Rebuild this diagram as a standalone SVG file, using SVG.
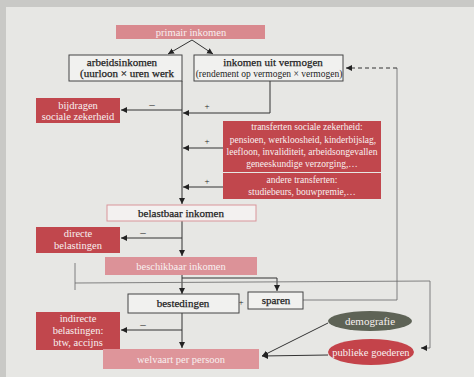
<svg xmlns="http://www.w3.org/2000/svg" width="474" height="377" viewBox="0 0 474 377">
<style>
.t{font-family:"Liberation Serif",serif;font-size:11px;fill:#1e1e1e;text-anchor:middle}
.b{stroke:#1e1e1e;stroke-width:0.25}
.s{font-size:9.5px}
.m{font-size:10.5px}
.p{font-size:9px}
.w{fill:#f8f0f0}
.red{fill:#c1474d}
.pink{fill:#d9898e}
.box{fill:#f1f1ef;stroke:#444;stroke-width:1}
.c{fill:none;stroke:#333;stroke-width:1}
.thin{fill:none;stroke:#666;stroke-width:0.8}
</style>
<defs>
<marker id="a" markerUnits="userSpaceOnUse" markerWidth="8" markerHeight="8" refX="6" refY="3" orient="auto">
<path d="M0,0 L6,3 L0,6 Z" fill="#222"/>
</marker>
</defs>
<rect width="474" height="377" fill="#c9c9c6"/>
<rect x="6" y="7" width="468" height="370" fill="#e7e7e4"/>

<g id="connectors">
<path class="c" d="M192,40 L168,54" marker-end="url(#a)"/>
<path class="c" d="M192,40 L213,54" marker-end="url(#a)"/>
<path class="c" d="M182,81 L182,204" marker-end="url(#a)"/>
<path class="c" d="M270,81 L270,113 L183,113" marker-end="url(#a)"/>
<path class="c" d="M182,110 L121,110" marker-end="url(#a)"/>
<path class="c" d="M223,148 L183,148" marker-end="url(#a)"/>
<path class="c" d="M223,187 L183,187" marker-end="url(#a)"/>
<path class="c" d="M182,221 L182,256" marker-end="url(#a)"/>
<path class="c" d="M182,238 L121,238" marker-end="url(#a)"/>
<path class="c" d="M182,275 L182,294" marker-end="url(#a)"/>
<path class="c" d="M182,278 L277,278 L277,291" marker-end="url(#a)"/>
<path class="thin" d="M75,263 L75,290"/>
<path class="thin" d="M75,283 L430,281 L430,348 L424,348"/>
<path class="c" d="M427,348 L421,348" marker-end="url(#a)"/>
<path class="thin" d="M303,300 L397,300 L397,68"/>
<path class="c" d="M397,68 L346,68" stroke="#222" stroke-width="1.2" stroke-dasharray="4,3" marker-end="url(#a)"/>
<path class="c" d="M182,313 L182,348" marker-end="url(#a)"/>
<path class="c" d="M182,330 L121,330" marker-end="url(#a)"/>
<path class="c" d="M328,323 L262,356" marker-end="url(#a)"/>
<path class="c" d="M328,355 L262,356" marker-end="url(#a)"/>
<text class="t" x="152" y="108">–</text>
<text class="t p" x="207" y="109">+</text>
<text class="t p" x="207" y="144">+</text>
<text class="t p" x="207" y="184">+</text>
<text class="t" x="143" y="236">–</text>
<text class="t" x="143" y="328">–</text>
<text class="t p" x="241" y="305">+</text>
</g>

<g id="primair">
<rect class="pink" x="116" y="25" width="149" height="14"/>
<text class="t m w" x="191" y="35.5">primair inkomen</text>
</g>
<g id="arbeidsinkomen">
<rect class="box" x="69" y="55" width="113" height="26"/>
<text class="t b" x="122" y="65.5">arbeidsinkomen</text>
<text class="t b" x="127" y="77">(uurloon × uren werk</text>
</g>
<g id="vermogen">
<rect class="box" x="194" y="55" width="149" height="26"/>
<text class="t b" x="273" y="65.5">inkomen uit vermogen</text>
<text class="t s" x="269" y="77">(rendement op vermogen × vermogen)</text>
</g>
<g id="bijdragen">
<rect class="red" x="36" y="98" width="84" height="25"/>
<text class="t m w" x="78" y="108.5">bijdragen</text>
<text class="t m w" x="78" y="120">sociale zekerheid</text>
</g>
<g id="transferten">
<rect class="red" x="223" y="121" width="158" height="51"/>
<text class="t s w" x="307" y="130">transferten sociale zekerheid:</text>
<text class="t s w" x="303" y="142.5">pensioen, werkloosheid, kinderbijslag,</text>
<text class="t s w" x="302" y="155">leefloon, invaliditeit, arbeidsongevallen</text>
<text class="t s w" x="302" y="167">geneeskundige verzorging,…</text>
</g>
<g id="andere">
<rect class="red" x="223" y="173" width="158" height="26"/>
<text class="t s w" x="302" y="183">andere transferten:</text>
<text class="t s w" x="302" y="195">studiebeurs, bouwpremie,…</text>
</g>
<g id="belastbaar">
<rect x="107" y="205" width="149" height="16" fill="#f3f1f0" stroke="#d9959a" stroke-width="1"/>
<text class="t b" x="181" y="216.5">belastbaar inkomen</text>
</g>
<g id="directe">
<rect class="red" x="36" y="227" width="84" height="26"/>
<text class="t m w" x="78" y="236.5">directe</text>
<text class="t m w" x="78" y="248.5">belastingen</text>
</g>
<g id="beschikbaar">
<rect x="105" y="257" width="152" height="18" fill="#dc9298"/>
<text class="t m w" x="181" y="269.5">beschikbaar inkomen</text>
</g>
<g id="bestedingen">
<rect class="box" x="128" y="294" width="111" height="19"/>
<text class="t b" x="183" y="306.5">bestedingen</text>
</g>
<g id="sparen">
<rect class="box" x="248" y="292" width="55" height="17"/>
<text class="t b" x="276" y="303.5">sparen</text>
</g>
<g id="indirecte">
<rect class="red" x="36" y="312" width="84" height="38"/>
<text class="t m w" x="78" y="322">indirecte</text>
<text class="t m w" x="78" y="334">belastingen:</text>
<text class="t m w" x="78" y="346">btw, accijns</text>
</g>
<g id="welvaart">
<rect x="103" y="349" width="156" height="20" fill="#de959a"/>
<text class="t m w" x="181" y="362.5">welvaart per persoon</text>
</g>
<g id="demografie">
<ellipse cx="370" cy="321" rx="42" ry="10" fill="#5e6356"/>
<text class="t w" x="370" y="324.5">demografie</text>
</g>
<g id="publieke">
<ellipse cx="371" cy="352" rx="43" ry="13" fill="#c4434a"/>
<text class="t m w" x="371" y="355.5">publieke goederen</text>
</g>
</svg>
